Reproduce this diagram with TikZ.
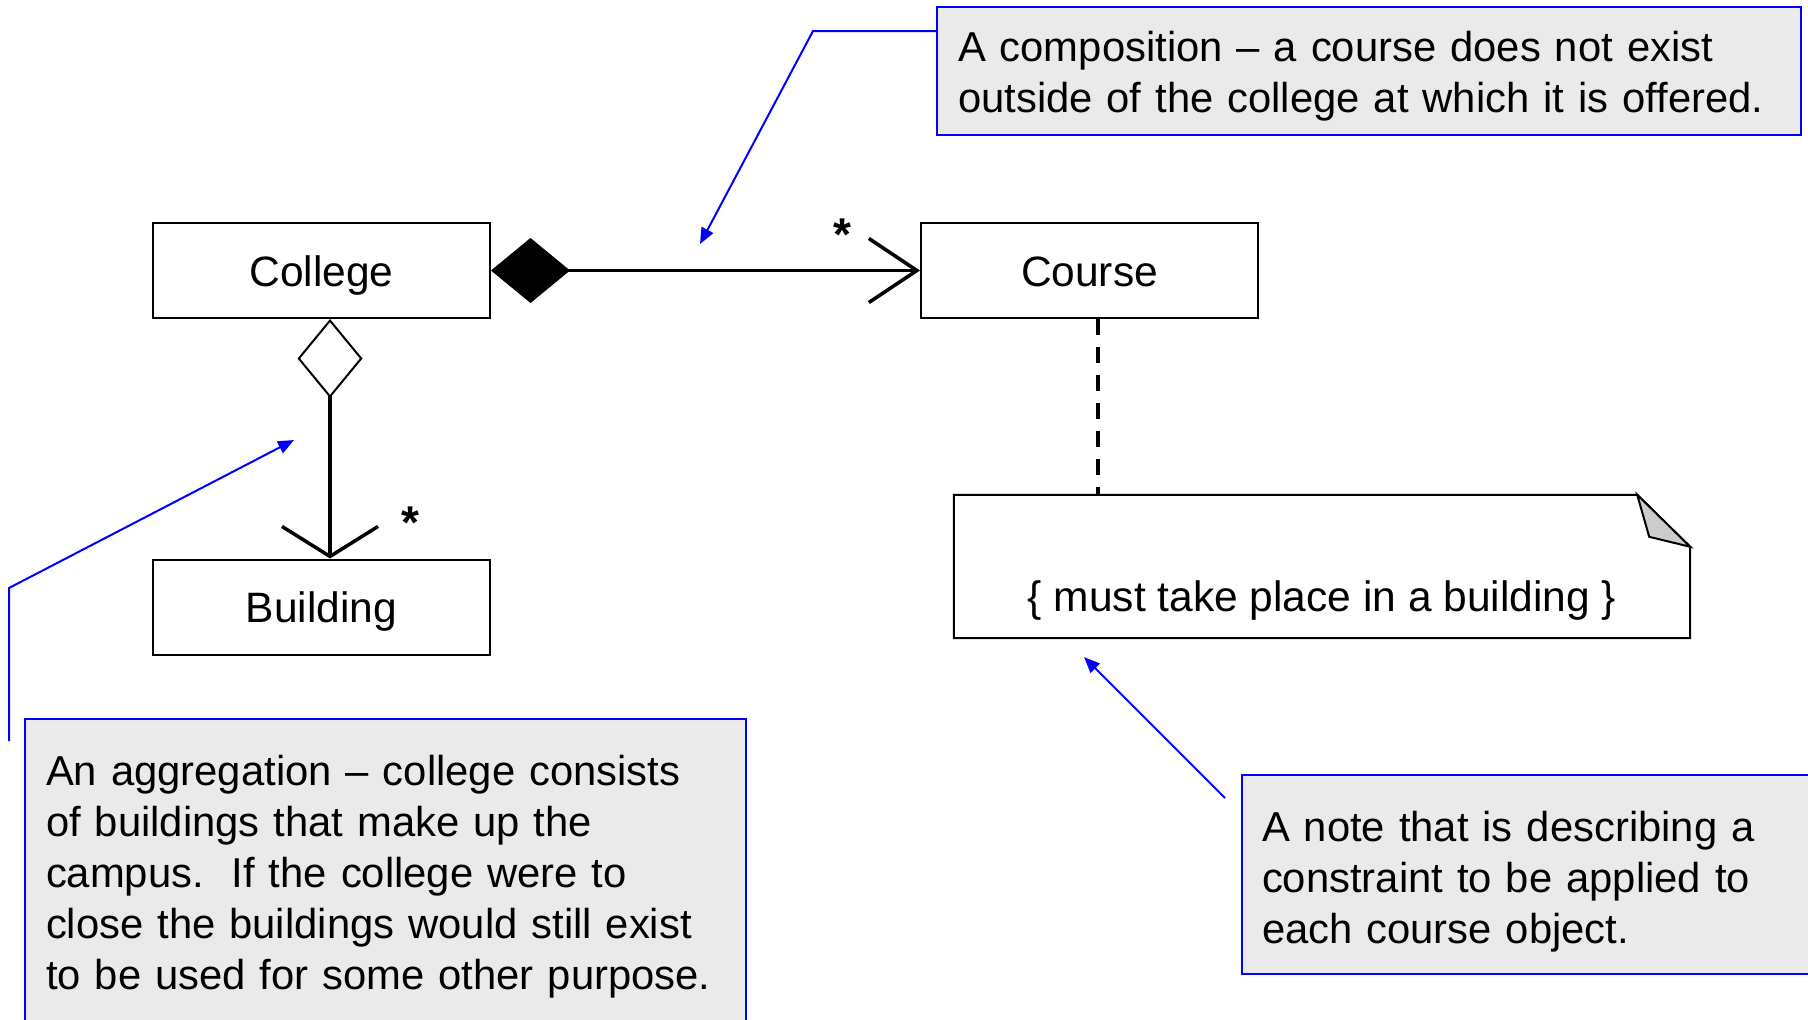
\documentclass[tikz,border=0pt]{standalone}
\usepackage{fontspec}
\setmainfont{Liberation Sans}
\usetikzlibrary{arrows.meta,calc}

\definecolor{notefill}{RGB}{234,234,234}
\definecolor{foldfill}{RGB}{204,204,204}
\definecolor{calloutblue}{RGB}{0,0,255}
\newcommand\diagfont{\fontsize{42.5}{51}\selectfont}
\newcommand\calloutfont{\fontsize{41.8}{51}\selectfont}
% raises the height of a callout's first line, moving its text down
\newcommand\firstline[1]{\rule{0pt}{#1}}

\tikzset{
  classbox/.style={draw=black, line width=2pt, minimum width=337pt,
    minimum height=95pt, inner sep=0pt, text height=31pt, text depth=0pt,
    font=\diagfont},
  callout/.style={draw=calloutblue, line width=2.5pt, fill=notefill,
    inner xsep=21pt, inner ysep=0pt, align=left, font=\calloutfont},
  pointer/.style={draw=calloutblue, line width=2pt,
    -{Triangle[length=16pt,width=13pt]}},
  assoc/.style={line width=3.5pt},
  dashline/.style={line width=4pt, dash pattern=on 16pt off 12pt},
  notebox/.style={draw=black, line width=2pt, fill=white},
  mult/.style={font=\fontsize{46}{51}\selectfont\bfseries, inner sep=0pt, anchor=base},
}

\begin{document}
\begin{tikzpicture}[x=1pt, y=-1pt]
\useasboundingbox (0,0) rectangle (1808,1020);
\clip (0,0) rectangle (1808,1020);

% classes
\node[classbox] (College)  at (321.5,270.5) {College};
\node[classbox] (Course)   at (1089.5,270.5) {Course};
\node[classbox] (Building) at (321.5,607) {Building};

% composition: College owns Course
\draw[assoc, {Diamond[length=79pt,width=65pt,line width=1pt]}-{Straight Barb[length=48pt,width=64pt]}]
  (College.east) -- (Course.west);
\node[mult] (mcourse) at (842,250) {*};

% aggregation: College has Buildings
\draw[assoc, {Diamond[open,length=79pt,width=65pt,line width=2pt]}-{Straight Barb[length=30pt,width=96pt]}]
  ($(College.south)+(8.5,0)$) -- ($(Building.north)+(8.5,0)$);
\node[mult] (mbuilding) at (410,538) {*};

% constraint note with folded corner
\node[minimum width=736pt, minimum height=143pt, inner sep=0pt] (note) at (1322,566.5) {};
\draw[notebox] (note.north west) -- ($(note.north east)+(-53,0)$)
  -- ($(note.north east)+(0,52)$) -- (note.south east) -- (note.south west) -- cycle;
\draw[line width=2pt, fill=foldfill] ($(note.north east)+(-53,0)$)
  -- ($(note.north east)+(-41,42)$) -- ($(note.north east)+(0,52)$) -- cycle;
\node[font=\diagfont, inner sep=0pt, anchor=base] (notetext) at (1322,611)
  {\{ must take place in a building \}};

% attachment of the note to Course
\coordinate (dtop) at ($(Course.south)+(8.5,0)$);
\draw[dashline] (dtop) -- (dtop |- note.north);

% explanatory callouts
\node[callout, text width=822pt, minimum width=864pt, minimum height=128pt] (comp) at (1369,71)
  {\firstline{41pt}A composition -- a course does not exist\\outside of the college at which it is offered.};
\node[callout, text width=679pt, minimum width=721pt, minimum height=308pt] (aggr) at (385.5,873)
  {\firstline{37pt}An aggregation -- college consists\\of buildings that make up the\\campus.\ \ If the college were to\\close the buildings would still exist\\to be used for some other purpose.};
\node[callout, inner xsep=20pt, text width=548pt, minimum width=588pt, minimum height=199pt] (cons) at (1536,874.5)
  {\firstline{45pt}A note that is describing a\\constraint to be applied to\\each course object.};

% callout pointers
\coordinate (cbend) at (813,31);
\coordinate (ctip)  at (700,244);
\draw[pointer] (comp.west |- cbend) -- (cbend) -- (ctip);

\coordinate (astart) at (9,741);
\coordinate (abend)  at (9,588);
\coordinate (atip)   at (294,440);
\draw[pointer] (astart) -- (abend) -- (atip);

\coordinate (nstart) at (1225,798);
\coordinate (ntip)   at (1084,657);
\draw[pointer] (nstart) -- (ntip);
\end{tikzpicture}
\end{document}
